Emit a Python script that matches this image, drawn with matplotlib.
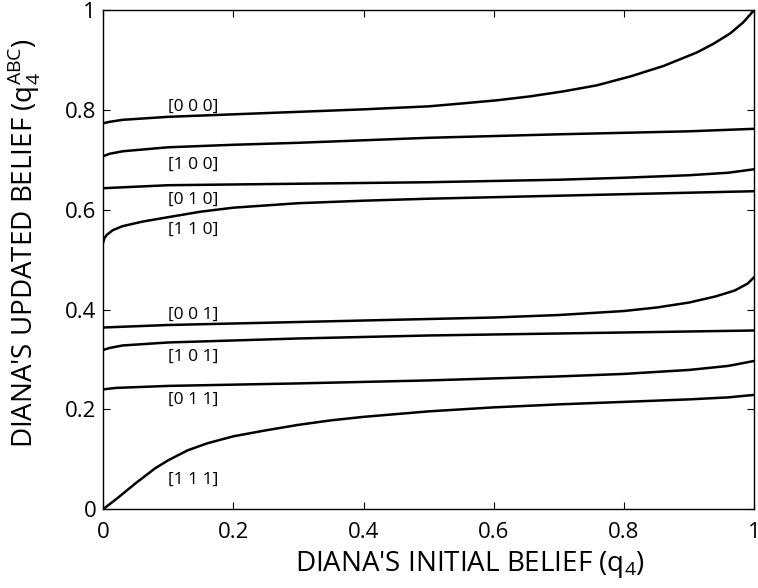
import matplotlib.pyplot as plt

plt.rcParams['font.family'] = ['Open Sans', 'DejaVu Sans']
plt.rcParams['mathtext.fontset'] = 'custom'
plt.rcParams['mathtext.rm'] = 'Open Sans'

# updated belief curves, one per observation pattern
x_000 = [0, 0.01, 0.03, 0.1, 0.2, 0.3, 0.4, 0.5, 0.553, 0.604, 0.656, 0.707, 0.758,
         0.810, 0.861, 0.912, 0.937, 0.963, 0.983, 1.0]
y_000 = [0.773, 0.776, 0.780, 0.786, 0.791, 0.796, 0.801, 0.807, 0.813, 0.819, 0.827, 0.837, 0.849,
         0.867, 0.888, 0.915, 0.932, 0.953, 0.975, 1.0]

x_100 = [0, 0.01, 0.03, 0.1, 0.2, 0.3, 0.5, 0.7, 0.9, 1.0]
y_100 = [0.707, 0.712, 0.717, 0.725, 0.730, 0.734, 0.744, 0.751, 0.757, 0.762]

x_010 = [0, 0.1, 0.3, 0.5, 0.7, 0.8, 0.9, 0.96, 1.0]
y_010 = [0.643, 0.649, 0.652, 0.655, 0.660, 0.664, 0.669, 0.674, 0.681]

x_110 = [0, 0.002, 0.006, 0.015, 0.03, 0.06, 0.1, 0.15, 0.2, 0.3, 0.4, 0.5, 0.7, 0.9, 1.0]
y_110 = [0.534, 0.543, 0.550, 0.559, 0.567, 0.576, 0.585, 0.596, 0.604, 0.613, 0.618, 0.622,
         0.628, 0.634, 0.637]

x_001 = [0, 0.1, 0.2, 0.3, 0.4, 0.5, 0.6, 0.7, 0.8, 0.85, 0.9, 0.94, 0.97, 0.99, 1.0]
y_001 = [0.364, 0.369, 0.372, 0.375, 0.378, 0.381, 0.384, 0.389, 0.397, 0.404, 0.414, 0.426,
         0.438, 0.452, 0.465]

x_101 = [0, 0.01, 0.03, 0.1, 0.2, 0.3, 0.5, 0.7, 1.0]
y_101 = [0.319, 0.323, 0.328, 0.334, 0.338, 0.342, 0.348, 0.352, 0.358]

x_011 = [0, 0.02, 0.1, 0.3, 0.5, 0.7, 0.8, 0.9, 0.96, 1.0]
y_011 = [0.240, 0.243, 0.247, 0.252, 0.258, 0.266, 0.271, 0.279, 0.287, 0.297]

x_111 = [0, 0.02, 0.05, 0.08, 0.1, 0.13, 0.16, 0.2, 0.25, 0.3, 0.35, 0.4, 0.5, 0.6, 0.7,
         0.8, 0.9, 0.96, 1.0]
y_111 = [0.0, 0.020, 0.052, 0.082, 0.098, 0.118, 0.132, 0.146, 0.158, 0.169, 0.178, 0.185,
         0.196, 0.204, 0.210, 0.215, 0.220, 0.224, 0.229]

labels = ['[0 0 0]', '[1 0 0]', '[0 1 0]', '[1 1 0]',
          '[0 0 1]', '[1 0 1]', '[0 1 1]', '[1 1 1]']
label_y = [0.805, 0.689, 0.620, 0.560, 0.390, 0.306, 0.219, 0.058]
label_x = 0.10

curves = [(x_000, y_000), (x_100, y_100), (x_010, y_010), (x_110, y_110),
          (x_001, y_001), (x_101, y_101), (x_011, y_011), (x_111, y_111)]

fig = plt.figure(figsize=(7.58, 5.88), dpi=100)
ax = fig.add_axes([0.136, 0.134, 0.859, 0.849])

for (xs, ys), lab, ly in zip(curves, labels, label_y):
    ax.plot(xs, ys, color='black', linewidth=1.8)
    ax.text(label_x, ly, lab, fontsize=12.5, ha='left', va='center')

ax.set_xlim(0, 1)
ax.set_ylim(0, 1)
ticks = [0, 0.2, 0.4, 0.6, 0.8, 1]
tick_labels = ['0', '0.2', '0.4', '0.6', '0.8', '1']
ax.set_xticks(ticks)
ax.set_xticklabels(tick_labels)
ax.set_yticks(ticks)
ax.set_yticklabels(tick_labels)
ax.tick_params(direction='in', top=True, right=True, length=5, labelsize=16)
ax.tick_params(axis='x', pad=9)
ax.tick_params(axis='y', pad=5)
for s in ax.spines.values():
    s.set_linewidth(1.0)

ax.set_xlabel("DIANA'S INITIAL BELIEF (q$_\\mathregular{4}$)", fontsize=20)
ax.xaxis.set_label_coords(0.564, -0.08)
ax.set_ylabel("DIANA'S UPDATED BELIEF (q$_\\mathregular{4}^\\mathregular{ABC}$)", fontsize=20)
ax.yaxis.set_label_coords(-0.093, 0.534)

fig.savefig('out.png', dpi=100)
